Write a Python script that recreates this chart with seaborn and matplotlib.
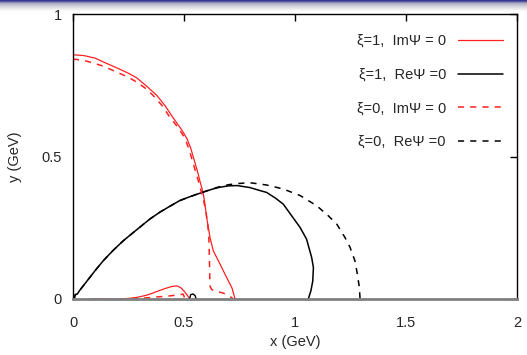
import numpy as np
import pandas as pd
import matplotlib
matplotlib.use("Agg")
import matplotlib.pyplot as plt
import seaborn as sns

# ---- data ----
red1_x = [0.0, 0.05, 0.1, 0.136, 0.2, 0.25, 0.287, 0.33, 0.377, 0.415, 0.45, 0.49, 0.513, 0.53, 0.545,
          0.56, 0.573, 0.586, 0.595, 0.602, 0.61, 0.617, 0.632, 0.655, 0.677, 0.7, 0.716, 0.73]
red1_y = [0.857, 0.854, 0.845, 0.832, 0.81, 0.792, 0.776, 0.748, 0.715, 0.678, 0.637, 0.593, 0.563, 0.53,
          0.49, 0.45, 0.41, 0.373, 0.33, 0.286, 0.25, 0.216, 0.169, 0.134, 0.099, 0.063, 0.039, 0.0]
red1_lobe_x = [0.077, 0.2, 0.25, 0.29, 0.33, 0.36, 0.39, 0.42, 0.445, 0.468, 0.485, 0.5, 0.513, 0.522, 0.527]
red1_lobe_y = [0.0, 0.0, 0.002, 0.006, 0.013, 0.021, 0.03, 0.038, 0.044, 0.046, 0.04, 0.028, 0.015, 0.005, 0.0]

red0_x = [0.0, 0.05, 0.1, 0.136, 0.2, 0.25, 0.287, 0.325, 0.36, 0.4, 0.437, 0.475, 0.505, 0.525, 0.54,
          0.555, 0.57, 0.58, 0.59, 0.6, 0.607, 0.612, 0.614, 0.615, 0.616, 0.617, 0.625, 0.645, 0.676,
          0.7, 0.716, 0.72]
red0_y = [0.842, 0.837, 0.826, 0.817, 0.795, 0.778, 0.761, 0.74, 0.715, 0.68, 0.637, 0.6, 0.563, 0.52,
          0.479, 0.44, 0.4, 0.37, 0.34, 0.3, 0.26, 0.215, 0.16, 0.12, 0.08, 0.045, 0.033, 0.027, 0.021,
          0.012, 0.004, 0.0]
red0_lobe_x = [0.1, 0.25, 0.333, 0.39, 0.437, 0.47, 0.496, 0.505]
red0_lobe_y = [0.0, 0.0, 0.004, 0.008, 0.011, 0.014, 0.017, 0.0]

blk1_x = [0.005, 0.01, 0.02, 0.03, 0.06, 0.1, 0.136, 0.18, 0.226, 0.29, 0.347, 0.392, 0.44, 0.48, 0.53,
          0.586, 0.63, 0.66, 0.7, 0.74, 0.797, 0.84, 0.872, 0.91, 0.947, 0.985, 1.023, 1.052, 1.075,
          1.083, 1.08, 1.072, 1.06]
blk1_y = [0.0, 0.015, 0.018, 0.03, 0.06, 0.1, 0.134, 0.17, 0.204, 0.245, 0.281, 0.305, 0.327, 0.345, 0.36,
          0.375, 0.386, 0.392, 0.397, 0.398, 0.391, 0.381, 0.374, 0.355, 0.333, 0.292, 0.251, 0.21, 0.146,
          0.11, 0.063, 0.03, 0.0]
blk1_loop_x = [0.525, 0.53, 0.54, 0.55, 0.555]
blk1_loop_y = [0.0, 0.015, 0.018, 0.012, 0.0]

blk0_x = [0.005, 0.01, 0.02, 0.03, 0.06, 0.1, 0.136, 0.18, 0.226, 0.29, 0.347, 0.392, 0.44, 0.48, 0.53,
          0.586, 0.63, 0.66, 0.7, 0.74, 0.797, 0.872, 0.947, 1.023, 1.098, 1.15, 1.188, 1.225, 1.248,
          1.27, 1.281, 1.29, 1.293]
blk0_y = [0.0, 0.015, 0.018, 0.03, 0.06, 0.1, 0.134, 0.17, 0.204, 0.245, 0.281, 0.305, 0.327, 0.345, 0.36,
          0.375, 0.387, 0.394, 0.401, 0.405, 0.408, 0.4, 0.386, 0.363, 0.327, 0.292, 0.263, 0.216, 0.181,
          0.134, 0.087, 0.04, 0.0]

labels = ["ξ=1,  ImΨ = 0", "ξ=1,  ReΨ =0", "ξ=0,  ImΨ = 0", "ξ=0,  ReΨ =0"]
x_ticks = [0, 0.5, 1, 1.5, 2]
x_ticklabels = ["0", "0.5", "1", "1.5", "2"]
y_ticks = [0, 0.5, 1]
y_ticklabels = ["0", "0.5", "1"]

# ---- figure ----
sns.set_style("white")
plt.rcParams["font.family"] = ["Liberation Sans", "DejaVu Sans"]
plt.rcParams["font.size"] = 10

fig = plt.figure(figsize=(5.27, 3.55), dpi=100)

# slide header gradient
hdr = fig.add_axes([0, 1 - 13 / 355, 1, 13 / 355])
grad = np.array([
    (55, 55, 140), (85, 85, 165), (140, 140, 180), (170, 170, 192), (186, 186, 202),
    (200, 200, 212), (212, 212, 220), (222, 222, 228), (232, 232, 236), (241, 241, 243),
    (248, 248, 249), (253, 253, 253), (255, 255, 255)], dtype=float) / 255.0
hdr.imshow(np.repeat(grad[:, None, :], 10, axis=1), aspect="auto", interpolation="nearest")
hdr.axis("off")

ax = fig.add_axes([73 / 527, 1 - 299 / 355, (517 - 73) / 527, (299 - 14) / 355])

red = "#ff2020"
def draw(xs, ys, color, lw, dashes, label=None):
    df = pd.DataFrame({"x": xs, "y": ys})
    sns.lineplot(data=df, x="x", y="y", sort=False, estimator=None, color=color, lw=lw,
                 ax=ax, label=label, legend=False)
    line = ax.lines[-1]
    line.set_solid_joinstyle("round")
    line.set_dash_joinstyle("round")
    if dashes:
        line.set_dashes(dashes)
    return line

h1 = draw(red1_x, red1_y, red, 0.9, None)
draw(red1_lobe_x, red1_lobe_y, red, 0.9, None)
h2 = draw(blk1_x, blk1_y, "black", 1.1, None)
draw(blk1_loop_x, blk1_loop_y, "black", 1.0, None)
h3 = draw(red0_x, red0_y, red, 1.1, (4, 4))
draw(red0_lobe_x, red0_lobe_y, red, 1.1, (4, 4))
h4 = draw(blk0_x, blk0_y, "black", 1.1, (4, 4))

ax.set_xlim(0, 2)
ax.set_ylim(0, 1)
ax.set_xticks(x_ticks)
ax.set_xticklabels(x_ticklabels)
ax.set_yticks(y_ticks)
ax.set_yticklabels(y_ticklabels)
ax.tick_params(direction="in", length=5, width=1, color="black", top=True, right=True,
               labelsize=10.5)
ax.tick_params(axis="x", pad=12)
ax.tick_params(axis="y", pad=8)
ax.set_xlabel("x (GeV)", fontsize=10.5, labelpad=4)
ax.set_ylabel("y (GeV)", fontsize=10.5, labelpad=14)
for s in ["left", "right", "top"]:
    ax.spines[s].set_color("black")
    ax.spines[s].set_linewidth(1.0)
ax.spines["bottom"].set_color("#808080")
ax.spines["bottom"].set_linewidth(2.0)
ax.spines["bottom"].set_zorder(5)

leg = ax.legend([h1, h2, h3, h4], labels, loc="upper right", bbox_to_anchor=(0.968, 0.93),
                frameon=False, markerfirst=False, handlelength=3.1, handletextpad=0.8,
                labelspacing=1.35, fontsize=10.5, borderaxespad=0, borderpad=0)

fig.savefig("out.png", dpi=100)
